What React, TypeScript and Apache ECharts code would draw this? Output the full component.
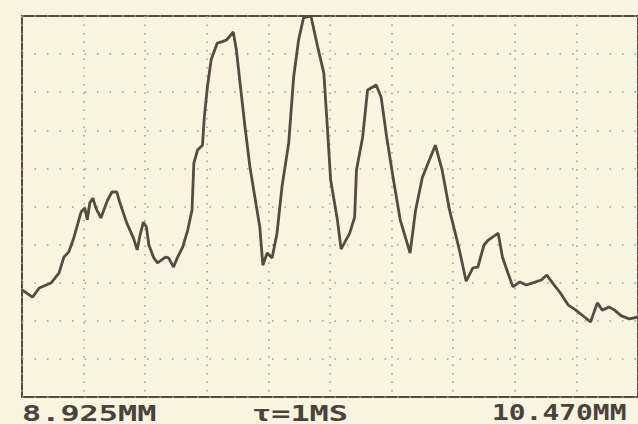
import React, { useEffect, useRef } from "react";
import * as echarts from "echarts";

// Trace: x in screen divisions (0..10), y in percent of full scale (0..100)
const traceX = [
  0.0, 0.17, 0.28, 0.47, 0.6, 0.68, 0.76, 0.83, 0.91, 0.96, 1.02, 1.06, 1.1, 1.15, 1.2, 1.28, 1.39, 1.46, 1.54, 1.59,
  1.7, 1.81, 1.87, 1.91, 1.97, 2.02, 2.06, 2.14, 2.2, 2.33, 2.38, 2.46, 2.52, 2.61, 2.69, 2.76, 2.79, 2.85, 2.93, 2.96,
  3.01, 3.07, 3.17, 3.24, 3.32, 3.43, 3.48, 3.54, 3.62, 3.7, 3.78, 3.86, 3.91, 3.98, 4.06, 4.14, 4.22, 4.33, 4.41, 4.49,
  4.57, 4.69, 4.8, 4.9, 4.96, 5.01, 5.12, 5.18, 5.32, 5.4, 5.43, 5.53, 5.61, 5.75, 5.83, 5.92, 6.03, 6.14, 6.3, 6.39,
  6.5, 6.71, 6.82, 6.94, 7.1, 7.21, 7.32, 7.4, 7.5, 7.57, 7.73, 7.8, 7.89, 7.97, 8.08, 8.19, 8.28, 8.43, 8.52, 8.6,
  8.74, 8.87, 8.99, 9.13, 9.23, 9.34, 9.42, 9.53, 9.62, 9.73, 9.86, 10.0,
];
const traceY = [
  28.1, 26.2, 28.6, 29.9, 32.5, 36.7, 38.1, 41.2, 45.7, 48.6, 49.6, 46.5, 50.9, 52.2, 49.6, 47.0, 51.7, 53.8, 53.8, 50.9,
  45.7, 41.7, 38.6, 42.0, 45.9, 44.6, 39.9, 36.5, 35.2, 36.7, 36.5, 34.1, 36.5, 39.4, 43.8, 49.1, 61.4, 64.8, 66.1, 73.5,
  81.4, 88.5, 92.9, 93.2, 93.7, 95.8, 91.1, 82.4, 70.9, 60.4, 52.5, 44.6, 34.6, 37.8, 36.5, 43.0, 55.1, 66.7, 84.0, 93.7,
  99.5, 100.0, 91.9, 85.0, 70.1, 57.0, 46.5, 38.8, 43.0, 47.2, 59.6, 68.2, 80.6, 81.9, 78.7, 68.2, 57.0, 46.5, 37.8, 49.1,
  57.7, 66.1, 59.6, 49.1, 38.6, 30.4, 33.9, 34.1, 39.9, 41.2, 43.0, 36.7, 32.5, 28.9, 30.2, 29.4, 29.9, 30.7, 32.0, 30.2,
  27.3, 24.1, 22.8, 21.0, 19.7, 24.7, 22.8, 23.6, 22.8, 21.3, 20.5, 21.0,
];

const leftLabel = "8.925MM";
const midLabel = "\u03C4=1MS";
const rightLabel = "10.470MM";

const paper = "#f9f4df";
const ink = "#544b43";
const dots = "#a39c8f";

export default function App() {
  const ref = useRef<HTMLDivElement>(null);

  useEffect(() => {
    if (!ref.current) return;
    const chart = echarts.init(ref.current, null, { renderer: "svg" });
    const data = traceX.map((x, i) => [x, traceY[i]]);
    const textStyle = (text: string) => ({
      text,
      fontFamily: "DejaVu Sans Mono",
      fontWeight: "bold",
      fontSize: 22,
      fill: "#4a433c",
      textVerticalAlign: "middle",
      verticalAlign: "middle",
    });
    chart.setOption({
      animation: false,
      backgroundColor: paper,
      grid: {
        left: 22,
        top: 16,
        right: -19,
        bottom: 27,
        show: true,
        borderColor: ink,
        borderWidth: 2,
        backgroundColor: "transparent",
      },
      xAxis: {
        type: "value",
        min: 0,
        max: 10,
        interval: 1,
        axisLine: { show: false },
        axisTick: { show: false },
        axisLabel: { show: false },
        splitLine: { show: true, lineStyle: { color: dots, width: 1.5, type: [1.5, 7] } },
      },
      yAxis: {
        type: "value",
        min: 0,
        max: 100,
        interval: 10,
        axisLine: { show: false },
        axisTick: { show: false },
        axisLabel: { show: false },
        splitLine: { show: true, lineStyle: { color: dots, width: 1.5, type: [1.5, 11] } },
      },
      series: [
        {
          type: "line",
          data,
          showSymbol: false,
          symbol: "none",
          clip: false,
          lineStyle: { color: ink, width: 2.8 },
        },
      ],
      graphic: [
        { type: "text", x: 22, y: 413, scaleX: 1.45, style: textStyle(leftLabel) },
        { type: "text", x: 252, y: 413, scaleX: 1.45, style: textStyle(midLabel) },
        { type: "text", x: 492, y: 413, scaleX: 1.27, style: textStyle(rightLabel) },
      ],
    });
    return () => chart.dispose();
  }, []);

  return (
    <div
      ref={ref}
      style={{ position: "fixed", left: 0, top: 0, width: 638, height: 424, overflow: "hidden" }}
    />
  );
}
